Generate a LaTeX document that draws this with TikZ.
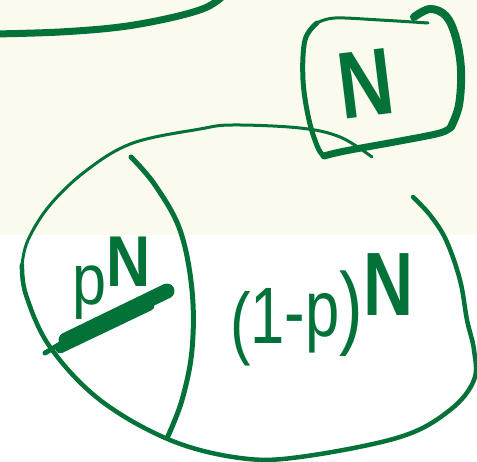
\documentclass[tikz,border=0pt]{standalone}
\usepackage{fontspec}
\setmainfont{Liberation Sans}
\definecolor{ink}{RGB}{3,114,56}
\definecolor{cream}{RGB}{250,250,239}
\begin{document}
\begin{tikzpicture}[x=1pt,y=-1pt,
  pen/.style={draw=ink,line cap=round,line join=round},
  lbl/.style={text=ink,inner sep=0pt,outer sep=0pt}]
\useasboundingbox (0,0) rectangle (477,462);
\fill[white] (0,0) rectangle (477,462);
\fill[cream] (0,0) rectangle (477,235);
% top-left curve
\draw[pen,line width=7] plot[smooth,tension=0.6] coordinates {(-5,34) (60,32) (120,27) (170,18) (205,8) (222,-3)};
% box around N
\draw[pen,line width=3] plot[smooth,tension=0.6] coordinates {(428,23) (380,20) (335,18) (317,23)};
\draw[pen,line width=5] plot[smooth,tension=0.6] coordinates {(317,23) (305,40) (303,80) (309,120) (318,148) (324,156)};
\draw[pen,line width=7] plot[smooth,tension=0.6] coordinates {(324,156) (345,151) (400,141) (440,133) (451,127)};
\draw[pen,line width=8] plot[smooth,tension=0.6] coordinates {(451,127) (459,105) (461,70) (456,38) (446,16) (430,9) (414,17)};
% big ellipse
\draw[pen,line width=3] plot[smooth,tension=0.6] coordinates {(372,157) (340,137) (300,128) (233,125) (200,129) (133,143) (87,170) (50,205) (28,240) (22,265)};
\draw[pen,line width=4.5] plot[smooth,tension=0.6] coordinates {(22,265) (26,295) (50,347) (100,400) (170,440) (240,458) (300,457) (400,437) (450,410) (474,380) (474,350) (467,320) (460,280) (446,240) (430,215) (413,197)};
% divider
\draw[pen,line width=5] plot[smooth,tension=0.6] coordinates {(131,157) (155,185) (180,230) (192,290) (192,350) (182,400) (168,436)};
% underline
\draw[pen,line width=5] (45,353) -- (72,337);
\draw[pen,line width=15] (66,340) -- (167,291);
\draw[pen,line width=9] (60,349) -- (150,306);
% labels
\node[lbl,rotate=7,xscale=0.8,font=\bfseries\fontsize{95}{95}\selectfont] (n) at (366,84) {N};
\node[lbl,anchor=base west,xscale=0.85,font=\fontsize{72}{72}\selectfont] (pn) at (72,305) {p\raisebox{18pt}{\bfseries N}};
\node[lbl,anchor=base west,xscale=0.77,font=\fontsize{80}{80}\selectfont] (qn) at (230,350) {(\raisebox{6pt}{1}\raisebox{10pt}{-}\raisebox{13pt}{p}\raisebox{12pt}{\fontsize{92}{92}\selectfont)}\raisebox{34pt}{\bfseries\fontsize{90}{90}\selectfont N}};
\end{tikzpicture}
\end{document}
